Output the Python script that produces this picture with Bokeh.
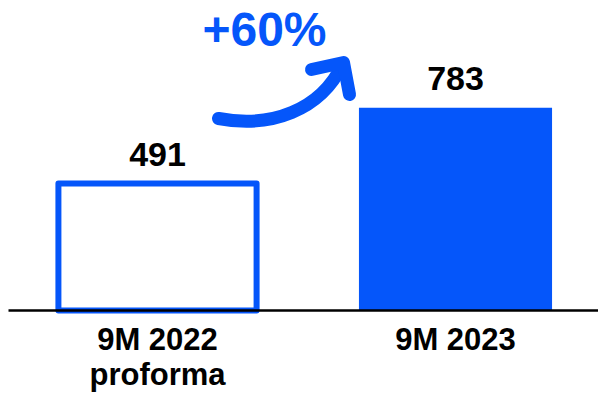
from bokeh.plotting import figure
from bokeh.models import Range1d, ColumnDataSource
from bokeh.core.properties import value
from bokeh.embed import file_html
from bokeh.resources import INLINE

# ---- data ----
categories = ["9M 2022\nproforma", "9M 2023"]
values = [491, 783]
value_labels = ["491", "783"]
growth_label = "+60%"

BLUE = "#0556FA"
FONT = "Liberation Sans"

xs = list(range(len(categories)))
line1 = [c.split("\n")[0] for c in categories]
line2 = [c.split("\n")[1] if "\n" in c else "" for c in categories]

# reference-pixel -> data helpers (decoration only)
def dx(px):
    return (px - 157) / 298
def dy(py):
    return (310 - py) / 0.25888

p = figure(width=598, height=394, output_backend="svg", toolbar_location=None,
           x_range=Range1d(dx(0), dx(598)), y_range=Range1d(dy(394), dy(0)),
           min_border=0, border_fill_color="white", background_fill_color="white")
p.axis.visible = False
p.grid.visible = False
p.outline_line_color = None

# bars
p.vbar(x=[xs[0]], top=[values[0]], bottom=0, width=0.665, fill_color="white",
       line_color=BLUE, line_width=6, line_join="round")
p.vbar(x=[xs[1]], top=[values[1]], bottom=0, width=0.648, fill_color=BLUE,
       line_color=None)

# baseline
p.segment(x0=[dx(8)], y0=[0], x1=[dx(598)], y1=[0], line_color="black", line_width=2.5)

# value labels
src = ColumnDataSource(dict(x=xs, y=values, t=value_labels))
p.text(x="x", y="y", text="t", source=src, text_align="center",
       text_baseline="alphabetic", y_offset=-29, text_font=value(FONT),
       text_font_style="bold", text_font_size="34px", text_color="black")

# category labels
csrc = ColumnDataSource(dict(x=xs, y=[0] * len(xs), l1=line1, l2=line2))
p.text(x="x", y="y", text="l1", source=csrc, text_align="center",
       text_baseline="alphabetic", y_offset=29, text_font=value(FONT),
       text_font_style="bold", text_font_size="31px", text_color="black")
p.text(x="x", y="y", text="l2", source=csrc, text_align="center",
       text_baseline="alphabetic", y_offset=64, text_font=value(FONT),
       text_font_style="bold", text_font_size="31px", text_color="black")

# growth arrow
p.bezier(x0=[dx(218)], y0=[dy(118)], x1=[dx(342)], y1=[dy(64)],
         cx0=[dx(270)], cy0=[dy(128)], cx1=[dx(320)], cy1=[dy(110)],
         line_color=BLUE, line_width=13, line_cap="round")
p.multi_line(xs=[[dx(311), dx(343), dx(349)]], ys=[[dy(69), dy(62), dy(94)]],
             line_color=BLUE, line_width=13, line_cap="round", line_join="round")

p.text(x=[dx(264)], y=[dy(47)], text=[growth_label], text_align="center",
       text_baseline="alphabetic", y_offset=-18, text_font=value(FONT),
       text_font_style="bold", text_font_size="48px", text_color=BLUE)

open("out.html", "w").write(file_html(p, INLINE))
